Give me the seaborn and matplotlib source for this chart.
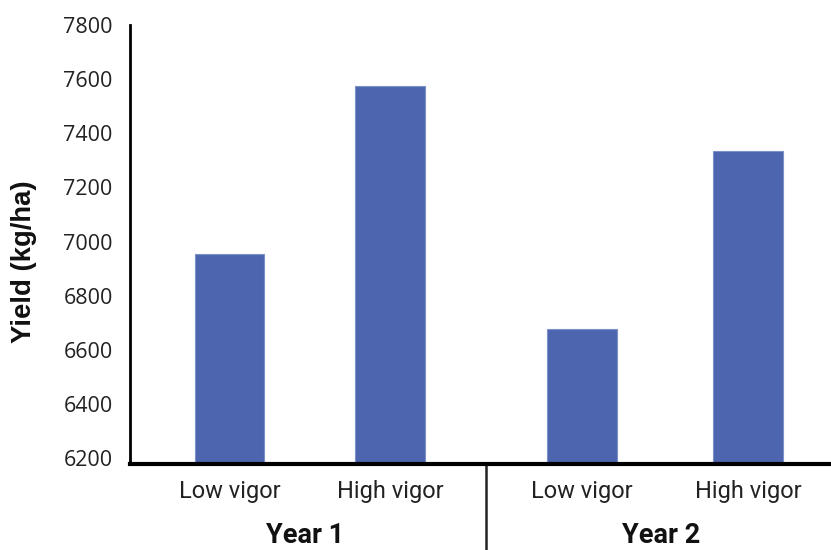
import matplotlib
matplotlib.use("Agg")
import matplotlib.pyplot as plt
import seaborn as sns
import pandas as pd

years = ["Year 1", "Year 1", "Year 2", "Year 2"]
vigor = ["Low vigor", "High vigor", "Low vigor", "High vigor"]
yield_vals = [6955, 7575, 6678, 7336]
year_labels = ["Year 1", "Year 2"]
y_ticks = [6200, 6400, 6600, 6800, 7000, 7200, 7400, 7600, 7800]

# layout positions (not data)
positions = [0.0, 0.985, 2.16, 3.18]

sns.set_theme(style="white")
plt.rcParams['font.family'] = ['Open Sans', 'DejaVu Sans']
NARROW = ['Roboto', 'DejaVu Sans']

df = pd.DataFrame({"pos": positions, "yield": yield_vals, "vigor": vigor, "year": years})

fig = plt.figure(figsize=(8.31, 5.5), dpi=100)
ax = fig.add_axes([130/831, 1-464/550, 1-130/831, (464-25)/550])

sns.barplot(data=df, x="pos", y="yield", native_scale=True, width=0.435,
            color="#4d65ae", saturation=1, ax=ax, edgecolor="#7d90c8", linewidth=0.8)

ax.set_ylim(6178, 7800)
ax.set_xlim(-0.61, 3.69)
ax.set_yticks(y_ticks)
ax.set_yticklabels([str(t) for t in y_ticks], fontsize=15.5, color="#222222")
ax.set_xticks(positions)
ax.set_xticklabels(vigor, fontsize=17, color="#222222", family=NARROW)
ax.tick_params(axis="y", length=0, pad=12.5)
ax.tick_params(axis="x", length=0, pad=11.5)

for s in ["top", "right"]:
    ax.spines[s].set_visible(False)
ax.spines["left"].set_color("black")
ax.spines["left"].set_linewidth(2)
ax.spines["bottom"].set_color("black")
ax.spines["bottom"].set_linewidth(3)

ax.set_xlabel("")
ax.set_ylabel("Yield (kg/ha)", fontsize=19.8, fontweight="bold", color="#111111",
              family=['Liberation Sans', 'DejaVu Sans'])
ax.yaxis.set_label_coords(-0.133, 0.461)

# group labels
group_centers = [(positions[0] + positions[1]) / 2 - 0.03, (positions[2] + positions[3]) / 2 - 0.02]
for c, lab in zip(group_centers, year_labels):
    ax.text(c, -(543 - 464) / 439, lab, transform=ax.get_xaxis_transform(), ha="center",
            va="baseline", fontsize=19.5, fontweight="bold", color="#111111", family=NARROW)

# separator
sep = (positions[1] + positions[2]) / 2
ax.plot([sep, sep], [0, -0.22], transform=ax.get_xaxis_transform(), color="#222222",
        linewidth=1.8, clip_on=False)

fig.savefig("out.png", dpi=100)
